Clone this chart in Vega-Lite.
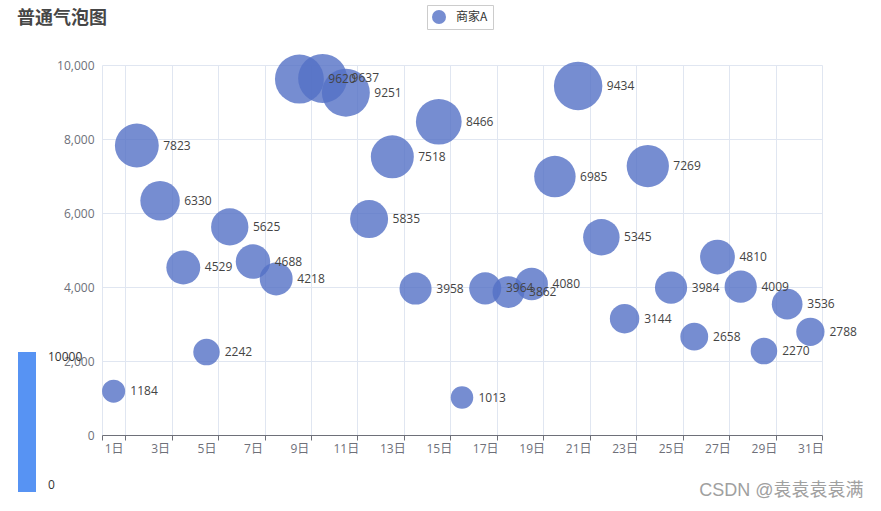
{
  "$schema": "https://vega.github.io/schema/vega-lite/v6.json",
  "width": 720,
  "height": 370,
  "autosize": {"type": "none"},
  "padding": {"left": 102, "top": 65, "right": 59, "bottom": 76},
  "background": "white",
  "config": {
    "font": "Open Sans, Noto Sans CJK SC",
    "view": {"stroke": null}
  },
  "title": {
    "text": "普通气泡图",
    "anchor": "start",
    "frame": "group",
    "dx": -85,
    "offset": -23,
    "fontSize": 18,
    "fontWeight": "bold",
    "color": "#464646",
    "font": "Noto Sans CJK SC"
  },
  "datasets": {
    "sales": [
      {"day": "1日", "value": 1184, "series": "商家A"},
      {"day": "2日", "value": 7823, "series": "商家A"},
      {"day": "3日", "value": 6330, "series": "商家A"},
      {"day": "4日", "value": 4529, "series": "商家A"},
      {"day": "5日", "value": 2242, "series": "商家A"},
      {"day": "6日", "value": 5625, "series": "商家A"},
      {"day": "7日", "value": 4688, "series": "商家A"},
      {"day": "8日", "value": 4218, "series": "商家A"},
      {"day": "9日", "value": 9620, "series": "商家A"},
      {"day": "10日", "value": 9637, "series": "商家A"},
      {"day": "11日", "value": 9251, "series": "商家A"},
      {"day": "12日", "value": 5835, "series": "商家A"},
      {"day": "13日", "value": 7518, "series": "商家A"},
      {"day": "14日", "value": 3958, "series": "商家A"},
      {"day": "15日", "value": 8466, "series": "商家A"},
      {"day": "16日", "value": 1013, "series": "商家A"},
      {"day": "17日", "value": 3964, "series": "商家A"},
      {"day": "18日", "value": 3862, "series": "商家A"},
      {"day": "19日", "value": 4080, "series": "商家A"},
      {"day": "20日", "value": 6985, "series": "商家A"},
      {"day": "21日", "value": 9434, "series": "商家A"},
      {"day": "22日", "value": 5345, "series": "商家A"},
      {"day": "23日", "value": 3144, "series": "商家A"},
      {"day": "24日", "value": 7269, "series": "商家A"},
      {"day": "25日", "value": 3984, "series": "商家A"},
      {"day": "26日", "value": 2658, "series": "商家A"},
      {"day": "27日", "value": 4810, "series": "商家A"},
      {"day": "28日", "value": 4009, "series": "商家A"},
      {"day": "29日", "value": 2270, "series": "商家A"},
      {"day": "30日", "value": 3536, "series": "商家A"},
      {"day": "31日", "value": 2788, "series": "商家A"}
    ],
    "visualMap": [
      {"v": 0},
      {"v": 10000}
    ]
  },
  "resolve": {"legend": {"size": "independent", "fill": "independent"}},
  "layer": [
    {
      "data": {"name": "visualMap"},
      "mark": {"type": "point", "filled": true, "shape": "circle", "opacity": 0},
      "encoding": {
        "fill": {
          "field": "v",
          "type": "quantitative",
          "scale": {"range": ["#5793f3", "#5793f3"], "zero": true, "nice": false},
          "legend": {
            "type": "gradient",
            "orient": "none",
            "legendX": -84,
            "legendY": 287,
            "direction": "vertical",
            "gradientLength": 140,
            "gradientThickness": 18,
            "gradientStrokeWidth": 0,
            "values": [0, 10000],
            "format": "d",
            "title": null,
            "labelColor": "#333",
            "labelFontSize": 12,
            "labelOffset": 12
          }
        }
      }
    },
    {
      "data": {"name": "sales"},
      "encoding": {
        "x": {
          "field": "day",
          "type": "ordinal",
          "sort": null,
          "scale": {"paddingInner": 0, "paddingOuter": 0},
          "axis": {
            "values": ["1日","3日","5日","7日","9日","11日","13日","15日","17日","19日","21日","23日","25日","27日","29日","31日"],
            "tickBand": "extent",
            "labelAngle": 0,
            "labelColor": "#6e7079",
            "labelFontSize": 12,
            "labelPadding": 3,
            "domainColor": "#6e7079",
            "tickColor": "#6e7079",
            "tickSize": 5,
            "grid": true,
            "gridColor": "#e0e6f1",
            "title": "CSDN @袁袁袁袁满",
            "titleFont": "Liberation Sans, Noto Sans CJK SC",
            "titleFontSize": 18,
            "titleFontWeight": "normal",
            "titleColor": "#a0a0a0",
            "titleAlign": "right",
            "titleBaseline": "middle",
            "titleX": 761,
            "titleY": 55
          }
        },
        "y": {
          "field": "value",
          "type": "quantitative",
          "scale": {"domain": [0, 10000], "nice": false},
          "axis": {
            "values": [0, 2000, 4000, 6000, 8000, 10000],
            "format": ",d",
            "domain": false,
            "ticks": false,
            "labelPadding": 8,
            "labelColor": "#6e7079",
            "labelFontSize": 12,
            "gridColor": "#e0e6f1",
            "title": null
          }
        }
      },
      "layer": [
        {
          "mark": {"type": "point", "filled": true, "shape": "circle", "opacity": 0.8, "strokeWidth": 0},
          "encoding": {
            "color": {
              "field": "series",
              "type": "nominal",
              "scale": {"range": ["#5470c6"]},
              "legend": {
                "orient": "none",
                "legendX": 325,
                "legendY": -60,
                "title": null,
                "strokeColor": "#ccc",
                "padding": 5,
                "symbolType": "circle",
                "symbolSize": 196,
                "symbolOpacity": 0.8,
                "symbolStrokeWidth": 0,
                "labelOffset": 10,
                "labelFontSize": 12,
                "labelColor": "#333",
                "labelFont": "Noto Sans CJK SC"
              }
            },
            "size": {
              "field": "value",
              "type": "quantitative",
              "scale": {"type": "pow", "exponent": 1.3, "domain": [0, 10000.5], "range": [400, 2500], "zero": false},
              "legend": null
            }
          }
        },
        {
          "mark": {"type": "text", "align": "left", "baseline": "middle", "fontSize": 12, "color": "#444"},
          "encoding": {
            "text": {"field": "value", "type": "quantitative", "format": "d"},
            "xOffset": {
              "field": "value",
              "type": "quantitative",
              "scale": {"domain": [0, 10000], "range": [26.6, 41.1], "zero": false, "nice": false}
            }
          }
        }
      ]
    }
  ]
}
